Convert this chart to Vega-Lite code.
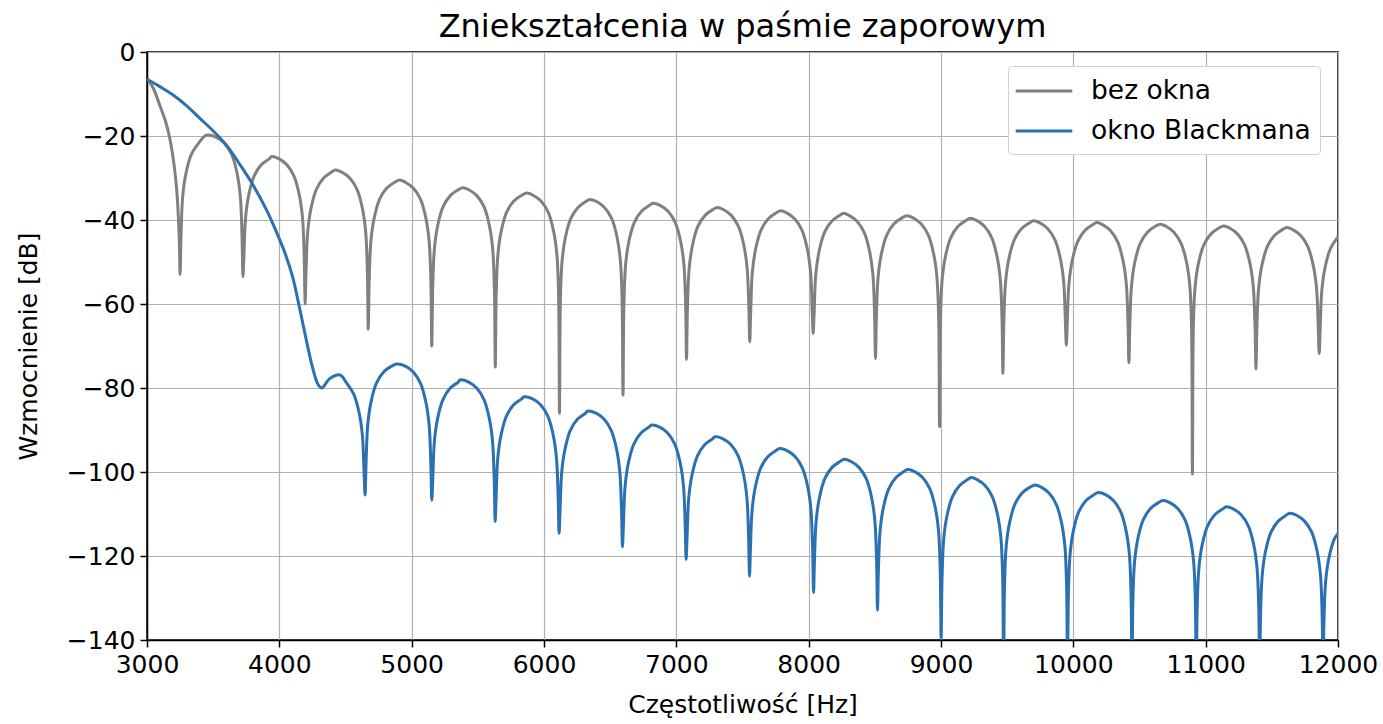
{
"$schema": "https://vega.github.io/schema/vega-lite/v6.json",
"width": 1191, "height": 588,
"autosize": {"type": "none"},
"padding": {"left": 147, "top": 52, "right": 45, "bottom": 84},
"background": "white",
"title": {"text": "Zniekształcenia w paśmie zaporowym", "font": "DejaVu Sans", "fontSize": 32, "fontWeight": "normal", "color": "black", "offset": -4},
"config": {"view": {"stroke": "black", "strokeWidth": 1.5}, "font": "DejaVu Sans"},
"datasets": {
"g": [
{"f":3000,"v":-6.3},{"f":3050,"v":-8.8},{"f":3100,"v":-13},{"f":3140,"v":-16.5},{"f":3175,"v":-21},{"f":3205,"v":-27},{"f":3225,"v":-33},{"f":3238,"v":-40},{"f":3245,"v":-46},{"f":3250,"v":-53},
{"f":3257,"v":-43.8},{"f":3270,"v":-34.3},{"f":3295,"v":-28.8},{"f":3335,"v":-24.4},{"f":3390,"v":-21.7},{"f":3450,"v":-19.8},{"f":3525,"v":-20.3},{"f":3585,"v":-21.7},{"f":3640,"v":-24.4},{"f":3680,"v":-28.8},{"f":3705,"v":-34.3},{"f":3718,"v":-43.8},{"f":3725,"v":-53.5},
{"f":3732,"v":-48.9},{"f":3745,"v":-39.4},{"f":3770,"v":-33.9},{"f":3810,"v":-29.5},{"f":3865,"v":-26.8},{"f":3925,"v":-25.4},{"f":3943,"v":-24.9},{"f":3995,"v":-25.4},{"f":4055,"v":-26.8},{"f":4110,"v":-29.5},{"f":4150,"v":-33.9},{"f":4175,"v":-39.4},{"f":4188,"v":-48.9},{"f":4195,"v":-60},
{"f":4202,"v":-52.1},{"f":4215,"v":-42.6},{"f":4240,"v":-37.1},{"f":4280,"v":-32.7},{"f":4335,"v":-30},{"f":4395,"v":-28.6},{"f":4422,"v":-28.1},{"f":4472,"v":-28.6},{"f":4532,"v":-30},{"f":4587,"v":-32.7},{"f":4627,"v":-37.1},{"f":4652,"v":-42.6},{"f":4665,"v":-52.1},{"f":4672,"v":-66},
{"f":4679,"v":-54.5},{"f":4692,"v":-45},{"f":4717,"v":-39.5},{"f":4757,"v":-35.1},{"f":4812,"v":-32.4},{"f":4872,"v":-31},{"f":4908,"v":-30.5},{"f":4952,"v":-31},{"f":5012,"v":-32.4},{"f":5067,"v":-35.1},{"f":5107,"v":-39.5},{"f":5132,"v":-45},{"f":5145,"v":-54.5},{"f":5152,"v":-70},
{"f":5159,"v":-56.3},{"f":5172,"v":-46.8},{"f":5197,"v":-41.3},{"f":5237,"v":-36.9},{"f":5292,"v":-34.2},{"f":5352,"v":-32.8},{"f":5387,"v":-32.3},{"f":5432,"v":-32.8},{"f":5492,"v":-34.2},{"f":5547,"v":-36.9},{"f":5587,"v":-41.3},{"f":5612,"v":-46.8},{"f":5625,"v":-56.3},{"f":5632,"v":-75},
{"f":5639,"v":-57.6},{"f":5652,"v":-48.1},{"f":5677,"v":-42.6},{"f":5717,"v":-38.2},{"f":5772,"v":-35.5},{"f":5832,"v":-34.1},{"f":5871,"v":-33.6},{"f":5917,"v":-34.1},{"f":5977,"v":-35.5},{"f":6032,"v":-38.2},{"f":6072,"v":-42.6},{"f":6097,"v":-48.1},{"f":6110,"v":-57.6},{"f":6117,"v":-86},
{"f":6124,"v":-59.1},{"f":6137,"v":-49.6},{"f":6162,"v":-44.1},{"f":6202,"v":-39.7},{"f":6257,"v":-37},{"f":6317,"v":-35.6},{"f":6345,"v":-35.1},{"f":6397,"v":-35.6},{"f":6457,"v":-37},{"f":6512,"v":-39.7},{"f":6552,"v":-44.1},{"f":6577,"v":-49.6},{"f":6590,"v":-59.1},{"f":6597,"v":-81.7},
{"f":6604,"v":-60},{"f":6617,"v":-50.5},{"f":6642,"v":-45},{"f":6682,"v":-40.6},{"f":6737,"v":-37.9},{"f":6797,"v":-36.5},{"f":6824,"v":-36},{"f":6877,"v":-36.5},{"f":6937,"v":-37.9},{"f":6992,"v":-40.6},{"f":7032,"v":-45},{"f":7057,"v":-50.5},{"f":7070,"v":-60},{"f":7077,"v":-73.2},
{"f":7084,"v":-61},{"f":7097,"v":-51.5},{"f":7122,"v":-46},{"f":7162,"v":-41.6},{"f":7217,"v":-38.9},{"f":7277,"v":-37.5},{"f":7308,"v":-37},{"f":7355,"v":-37.5},{"f":7415,"v":-38.9},{"f":7470,"v":-41.6},{"f":7510,"v":-46},{"f":7535,"v":-51.5},{"f":7548,"v":-61},{"f":7555,"v":-69},
{"f":7562,"v":-61.8},{"f":7575,"v":-52.3},{"f":7600,"v":-46.8},{"f":7640,"v":-42.4},{"f":7695,"v":-39.7},{"f":7755,"v":-38.3},{"f":7791,"v":-37.8},{"f":7834,"v":-38.3},{"f":7894,"v":-39.7},{"f":7949,"v":-42.4},{"f":7989,"v":-46.8},{"f":8014,"v":-52.3},{"f":8027,"v":-61.8},{"f":8034,"v":-67},
{"f":8041,"v":-62.4},{"f":8054,"v":-52.9},{"f":8079,"v":-47.4},{"f":8119,"v":-43},{"f":8174,"v":-40.3},{"f":8234,"v":-38.9},{"f":8265,"v":-38.4},{"f":8305,"v":-38.9},{"f":8365,"v":-40.3},{"f":8420,"v":-43},{"f":8460,"v":-47.4},{"f":8485,"v":-52.9},{"f":8498,"v":-62.4},{"f":8505,"v":-73},
{"f":8512,"v":-63},{"f":8525,"v":-53.5},{"f":8550,"v":-48},{"f":8590,"v":-43.6},{"f":8645,"v":-40.9},{"f":8705,"v":-39.5},{"f":8742,"v":-39},{"f":8789,"v":-39.5},{"f":8849,"v":-40.9},{"f":8904,"v":-43.6},{"f":8944,"v":-48},{"f":8969,"v":-53.5},{"f":8982,"v":-63},{"f":8989,"v":-89.2},
{"f":8996,"v":-63.6},{"f":9009,"v":-54.1},{"f":9034,"v":-48.6},{"f":9074,"v":-44.2},{"f":9129,"v":-41.5},{"f":9189,"v":-40.1},{"f":9221,"v":-39.6},{"f":9268,"v":-40.1},{"f":9328,"v":-41.5},{"f":9383,"v":-44.2},{"f":9423,"v":-48.6},{"f":9448,"v":-54.1},{"f":9461,"v":-63.6},{"f":9468,"v":-76.5},
{"f":9475,"v":-64.2},{"f":9488,"v":-54.7},{"f":9513,"v":-49.2},{"f":9553,"v":-44.8},{"f":9608,"v":-42.1},{"f":9668,"v":-40.7},{"f":9699,"v":-40.2},{"f":9747,"v":-40.7},{"f":9807,"v":-42.1},{"f":9862,"v":-44.8},{"f":9902,"v":-49.2},{"f":9927,"v":-54.7},{"f":9940,"v":-64.2},{"f":9947,"v":-69.8},
{"f":9954,"v":-64.6},{"f":9967,"v":-55.1},{"f":9992,"v":-49.6},{"f":10032,"v":-45.2},{"f":10087,"v":-42.5},{"f":10147,"v":-41.1},{"f":10178,"v":-40.6},{"f":10220,"v":-41.1},{"f":10280,"v":-42.5},{"f":10335,"v":-45.2},{"f":10375,"v":-49.6},{"f":10400,"v":-55.1},{"f":10413,"v":-64.6},{"f":10420,"v":-74},
{"f":10427,"v":-65},{"f":10440,"v":-55.5},{"f":10465,"v":-50},{"f":10505,"v":-45.6},{"f":10560,"v":-42.9},{"f":10620,"v":-41.5},{"f":10657,"v":-41},{"f":10700,"v":-41.5},{"f":10760,"v":-42.9},{"f":10815,"v":-45.6},{"f":10855,"v":-50},{"f":10880,"v":-55.5},{"f":10893,"v":-65},{"f":10900,"v":-100.5},
{"f":10907,"v":-65.4},{"f":10920,"v":-55.9},{"f":10945,"v":-50.4},{"f":10985,"v":-46},{"f":11040,"v":-43.3},{"f":11100,"v":-41.9},{"f":11136,"v":-41.4},{"f":11180,"v":-41.9},{"f":11240,"v":-43.3},{"f":11295,"v":-46},{"f":11335,"v":-50.4},{"f":11360,"v":-55.9},{"f":11373,"v":-65.4},{"f":11380,"v":-75.5},
{"f":11387,"v":-65.8},{"f":11400,"v":-56.3},{"f":11425,"v":-50.8},{"f":11465,"v":-46.4},{"f":11520,"v":-43.7},{"f":11580,"v":-42.3},{"f":11615,"v":-41.8},{"f":11658,"v":-42.3},{"f":11718,"v":-43.7},{"f":11773,"v":-46.4},{"f":11813,"v":-50.8},{"f":11838,"v":-56.3},{"f":11851,"v":-65.8},{"f":11858,"v":-71.8},
{"f":11865,"v":-66.2},{"f":11878,"v":-56.7},{"f":11903,"v":-51.2},{"f":11943,"v":-46.8},{"f":12000,"v":-44}
],
"b": [
{"f":3000,"v":-6.5},{"f":3100,"v":-8.3},{"f":3200,"v":-10.3},{"f":3300,"v":-12.8},{"f":3400,"v":-15.8},{"f":3500,"v":-18.8},{"f":3600,"v":-22.2},{"f":3700,"v":-26.7},{"f":3800,"v":-31.6},{"f":3900,"v":-37.4},{"f":3950,"v":-40.8},{"f":4000,"v":-44.5},{"f":4050,"v":-48.5},{"f":4100,"v":-53.5},{"f":4150,"v":-60.5},{"f":4200,"v":-68},{"f":4250,"v":-75},{"f":4290,"v":-79},{"f":4320,"v":-80},
{"f":4380,"v":-77.8},{"f":4459,"v":-76.9},{"f":4508,"v":-78.8},{"f":4563,"v":-81.5},{"f":4603,"v":-85.9},{"f":4628,"v":-91.4},{"f":4641,"v":-100.9},{"f":4648,"v":-105.5},
{"f":4655,"v":-98.3},{"f":4668,"v":-88.8},{"f":4693,"v":-83.3},{"f":4733,"v":-78.9},{"f":4788,"v":-76.2},{"f":4848,"v":-74.8},{"f":4888,"v":-74.3},{"f":4952,"v":-74.8},{"f":5012,"v":-76.2},{"f":5067,"v":-78.9},{"f":5107,"v":-83.3},{"f":5132,"v":-88.8},{"f":5145,"v":-98.3},{"f":5152,"v":-106.7},
{"f":5159,"v":-102.1},{"f":5172,"v":-92.6},{"f":5197,"v":-87.1},{"f":5237,"v":-82.7},{"f":5292,"v":-80},{"f":5352,"v":-78.6},{"f":5366,"v":-78.1},{"f":5431,"v":-78.6},{"f":5491,"v":-80},{"f":5546,"v":-82.7},{"f":5586,"v":-87.1},{"f":5611,"v":-92.6},{"f":5624,"v":-102.1},{"f":5631,"v":-111.8},
{"f":5638,"v":-106.1},{"f":5651,"v":-96.6},{"f":5676,"v":-91.1},{"f":5716,"v":-86.7},{"f":5771,"v":-84},{"f":5831,"v":-82.6},{"f":5850,"v":-82.1},{"f":5914,"v":-82.6},{"f":5974,"v":-84},{"f":6029,"v":-86.7},{"f":6069,"v":-91.1},{"f":6094,"v":-96.6},{"f":6107,"v":-106.1},{"f":6114,"v":-114.6},
{"f":6121,"v":-109.5},{"f":6134,"v":-100},{"f":6159,"v":-94.5},{"f":6199,"v":-90.1},{"f":6254,"v":-87.4},{"f":6314,"v":-86},{"f":6328,"v":-85.5},{"f":6393,"v":-86},{"f":6453,"v":-87.4},{"f":6508,"v":-90.1},{"f":6548,"v":-94.5},{"f":6573,"v":-100},{"f":6586,"v":-109.5},{"f":6593,"v":-117.8},
{"f":6600,"v":-112.8},{"f":6613,"v":-103.3},{"f":6638,"v":-97.8},{"f":6678,"v":-93.4},{"f":6733,"v":-90.7},{"f":6793,"v":-89.3},{"f":6815,"v":-88.8},{"f":6874,"v":-89.3},{"f":6934,"v":-90.7},{"f":6989,"v":-93.4},{"f":7029,"v":-97.8},{"f":7054,"v":-103.3},{"f":7067,"v":-112.8},{"f":7074,"v":-120.8},
{"f":7081,"v":-115.6},{"f":7094,"v":-106.1},{"f":7119,"v":-100.6},{"f":7159,"v":-96.2},{"f":7214,"v":-93.5},{"f":7274,"v":-92.1},{"f":7293,"v":-91.6},{"f":7353,"v":-92.1},{"f":7413,"v":-93.5},{"f":7468,"v":-96.2},{"f":7508,"v":-100.6},{"f":7533,"v":-106.1},{"f":7546,"v":-115.6},{"f":7553,"v":-124.8},
{"f":7560,"v":-118.4},{"f":7573,"v":-108.9},{"f":7598,"v":-103.4},{"f":7638,"v":-99},{"f":7693,"v":-96.3},{"f":7753,"v":-94.9},{"f":7780,"v":-94.4},{"f":7837,"v":-94.9},{"f":7897,"v":-96.3},{"f":7952,"v":-99},{"f":7992,"v":-103.4},{"f":8017,"v":-108.9},{"f":8030,"v":-118.4},{"f":8037,"v":-128.7},
{"f":8044,"v":-121},{"f":8057,"v":-111.5},{"f":8082,"v":-106},{"f":8122,"v":-101.6},{"f":8177,"v":-98.9},{"f":8237,"v":-97.5},{"f":8264,"v":-97},{"f":8320,"v":-97.5},{"f":8380,"v":-98.9},{"f":8435,"v":-101.6},{"f":8475,"v":-106},{"f":8500,"v":-111.5},{"f":8513,"v":-121},{"f":8520,"v":-132.9},
{"f":8527,"v":-123.4},{"f":8540,"v":-113.9},{"f":8565,"v":-108.4},{"f":8605,"v":-104},{"f":8660,"v":-101.3},{"f":8720,"v":-99.9},{"f":8747,"v":-99.4},{"f":8801,"v":-99.9},{"f":8861,"v":-101.3},{"f":8916,"v":-104},{"f":8956,"v":-108.4},{"f":8981,"v":-113.9},{"f":8994,"v":-123.4},{"f":9001,"v":-139.5},
{"f":9008,"v":-125.3},{"f":9021,"v":-115.8},{"f":9046,"v":-110.3},{"f":9086,"v":-105.9},{"f":9141,"v":-103.2},{"f":9201,"v":-101.8},{"f":9228,"v":-101.3},{"f":9273,"v":-101.8},{"f":9333,"v":-103.2},{"f":9388,"v":-105.9},{"f":9428,"v":-110.3},{"f":9453,"v":-115.8},{"f":9466,"v":-125.3},{"f":9473,"v":-150},
{"f":9480,"v":-127.1},{"f":9493,"v":-117.6},{"f":9518,"v":-112.1},{"f":9558,"v":-107.7},{"f":9613,"v":-105},{"f":9673,"v":-103.6},{"f":9712,"v":-103.1},{"f":9756,"v":-103.6},{"f":9816,"v":-105},{"f":9871,"v":-107.7},{"f":9911,"v":-112.1},{"f":9936,"v":-117.6},{"f":9949,"v":-127.1},{"f":9956,"v":-150},
{"f":9963,"v":-128.9},{"f":9976,"v":-119.4},{"f":10001,"v":-113.9},{"f":10041,"v":-109.5},{"f":10096,"v":-106.8},{"f":10156,"v":-105.4},{"f":10191,"v":-104.9},{"f":10243,"v":-105.4},{"f":10303,"v":-106.8},{"f":10358,"v":-109.5},{"f":10398,"v":-113.9},{"f":10423,"v":-119.4},{"f":10436,"v":-128.9},{"f":10443,"v":-150},
{"f":10450,"v":-130.8},{"f":10463,"v":-121.3},{"f":10488,"v":-115.8},{"f":10528,"v":-111.4},{"f":10583,"v":-108.7},{"f":10643,"v":-107.3},{"f":10677,"v":-106.8},{"f":10729,"v":-107.3},{"f":10789,"v":-108.7},{"f":10844,"v":-111.4},{"f":10884,"v":-115.8},{"f":10909,"v":-121.3},{"f":10922,"v":-130.8},{"f":10929,"v":-150},
{"f":10936,"v":-132.3},{"f":10949,"v":-122.8},{"f":10974,"v":-117.3},{"f":11014,"v":-112.9},{"f":11069,"v":-110.2},{"f":11129,"v":-108.8},{"f":11156,"v":-108.3},{"f":11208,"v":-108.8},{"f":11268,"v":-110.2},{"f":11323,"v":-112.9},{"f":11363,"v":-117.3},{"f":11388,"v":-122.8},{"f":11401,"v":-132.3},{"f":11408,"v":-150},
{"f":11415,"v":-133.8},{"f":11428,"v":-124.3},{"f":11453,"v":-118.8},{"f":11493,"v":-114.4},{"f":11548,"v":-111.7},{"f":11608,"v":-110.3},{"f":11635,"v":-109.8},{"f":11687,"v":-110.3},{"f":11747,"v":-111.7},{"f":11802,"v":-114.4},{"f":11842,"v":-118.8},{"f":11867,"v":-124.3},{"f":11880,"v":-133.8},{"f":11887,"v":-150},
{"f":11894,"v":-135.4},{"f":11907,"v":-125.9},{"f":11932,"v":-120.4},{"f":11972,"v":-116},{"f":12000,"v":-114.6}
]
},
"encoding": {
  "x": {"field": "f", "type": "quantitative", "scale": {"domain": [3000, 12000], "nice": false, "zero": false},
    "axis": {"values": [3000,4000,5000,6000,7000,8000,9000,10000,11000,12000], "format": "d", "title": "Częstotliwość [Hz]",
      "titleFont": "DejaVu Sans", "titleFontSize": 25, "titleFontWeight": "normal", "titleColor": "black", "titlePadding": 15,
      "labelFont": "DejaVu Sans", "labelFontSize": 25, "labelColor": "black", "labelPadding": 5, "labelFlush": false, "labelOverlap": false,
      "tickColor": "black", "tickSize": 7, "tickWidth": 1.5, "domainColor": "black", "domainWidth": 1.5,
      "grid": true, "gridColor": "#b0b0b0", "gridWidth": 1.2}},
  "y": {"field": "v", "type": "quantitative", "scale": {"domain": [-140, 0], "nice": false, "zero": false},
    "axis": {"values": [-140,-120,-100,-80,-60,-40,-20,0], "title": "Wzmocnienie [dB]",
      "titleFont": "DejaVu Sans", "titleFontSize": 25, "titleFontWeight": "normal", "titleColor": "black", "titlePadding": 25,
      "labelFont": "DejaVu Sans", "labelFontSize": 25, "labelColor": "black", "labelPadding": 5, "labelFlush": false, "labelOverlap": false,
      "tickColor": "black", "tickSize": 7, "tickWidth": 1.5, "domainColor": "black", "domainWidth": 1.5,
      "grid": true, "gridColor": "#b0b0b0", "gridWidth": 1.2}}
},
"layer": [
  {"data": {"name": "g"}, "mark": {"type": "line", "strokeWidth": 3, "clip": true, "interpolate": "catmull-rom"},
   "encoding": {"color": {"datum": "bez okna", "type": "nominal",
     "scale": {"domain": ["bez okna", "okno Blackmana"], "range": ["#808080", "#2b71b1"]},
     "legend": {"title": null, "orient": "none", "legendX": 861, "legendY": 14, "symbolType": "M-2,0L2,0", "symbolSize": 800, "symbolStrokeWidth": 3, "symbolOffset": 11,
       "labelFont": "DejaVu Sans", "labelFontSize": 26.5, "labelColor": "black", "labelOffset": 31, "labelLimit": 500, "rowPadding": 10,
       "strokeColor": "#d0d0d0", "fillColor": "white", "padding": 9, "cornerRadius": 4}}}},
  {"data": {"name": "b"}, "mark": {"type": "line", "strokeWidth": 3, "clip": true, "interpolate": "catmull-rom"},
   "encoding": {"color": {"datum": "okno Blackmana", "type": "nominal"}}}
]
}
